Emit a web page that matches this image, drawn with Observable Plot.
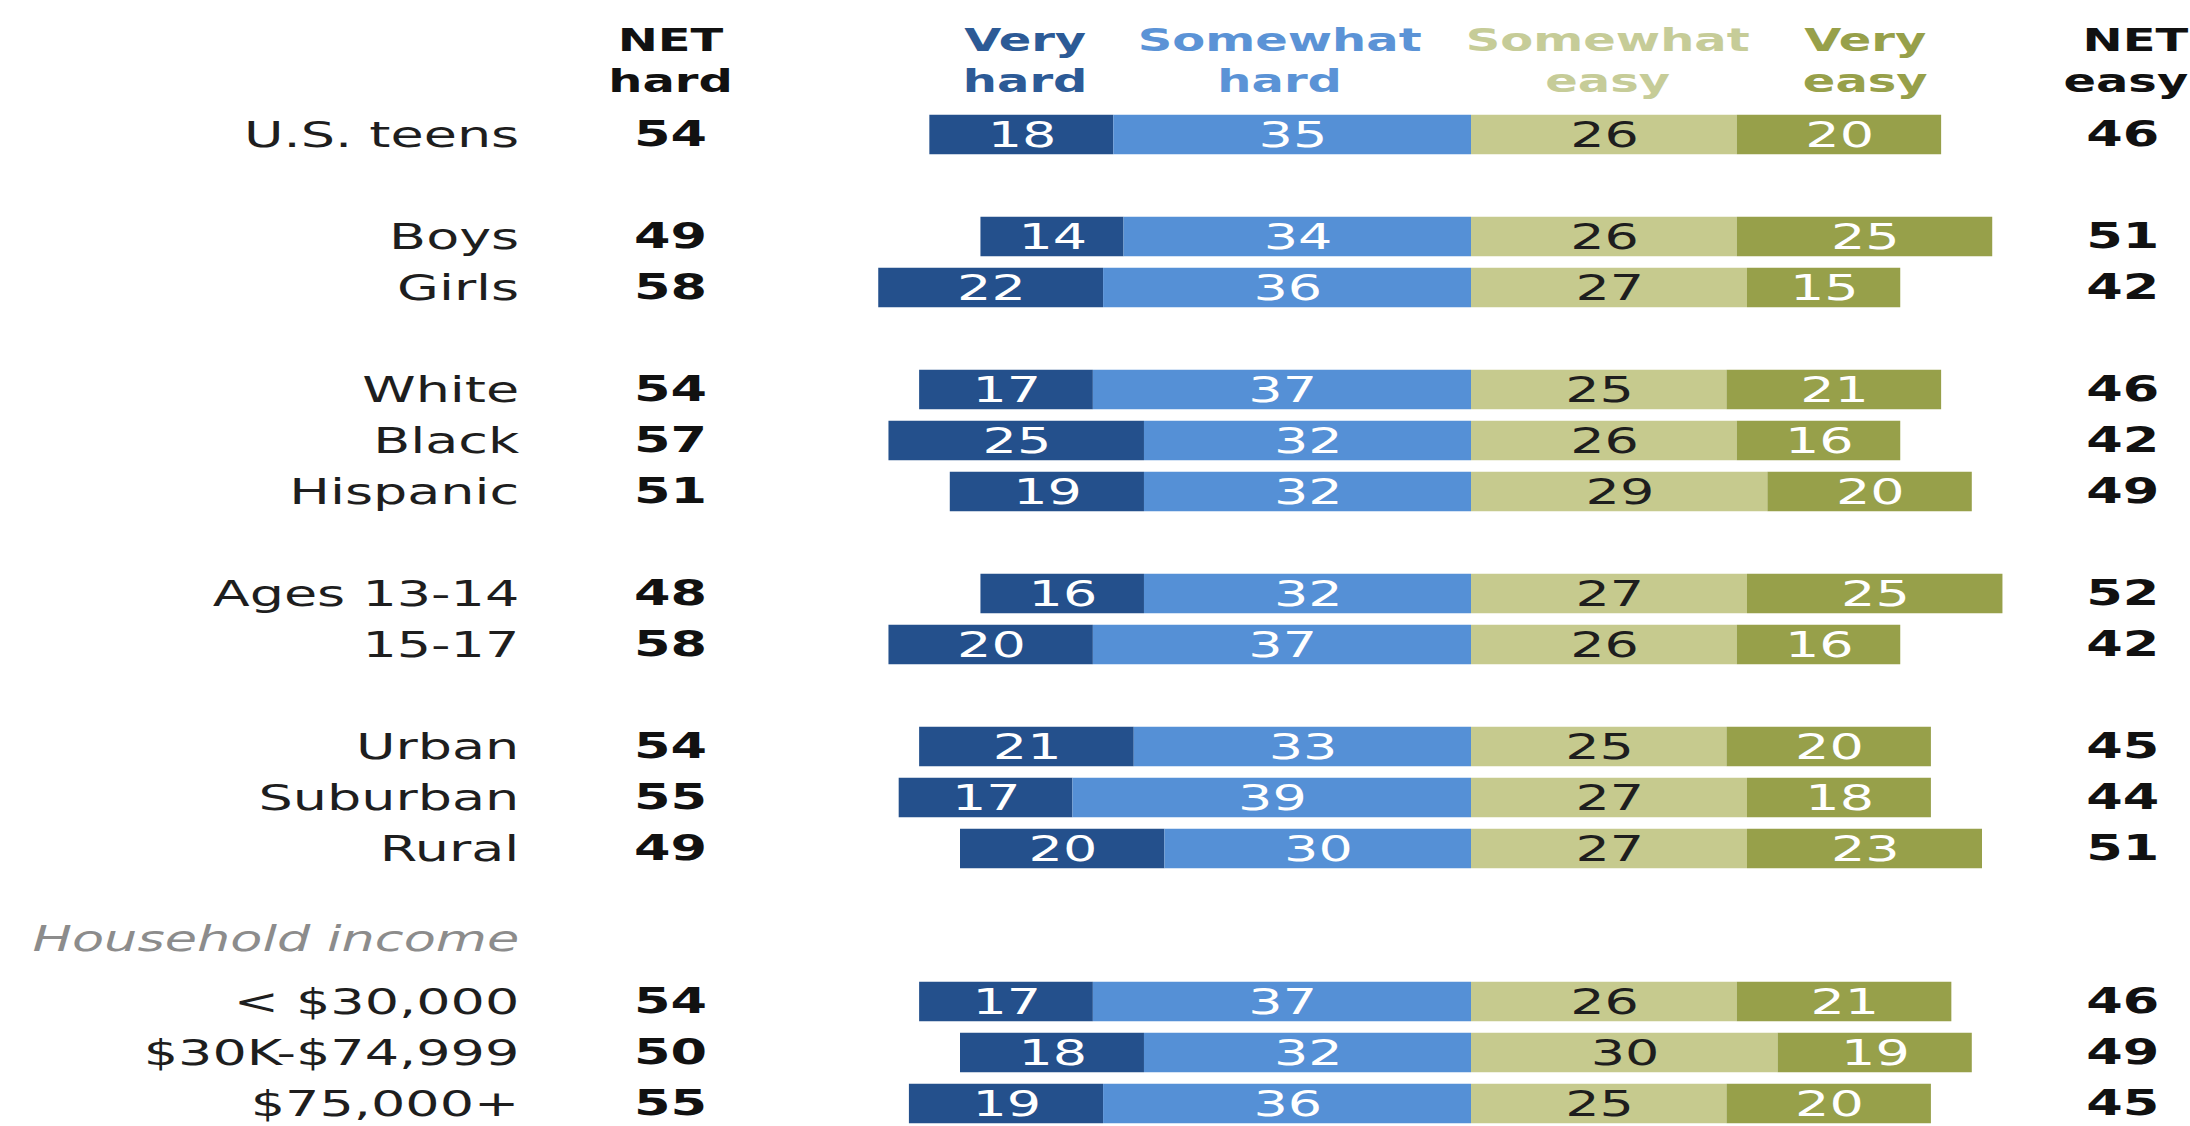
<!DOCTYPE html>
<html>
<head>
<meta charset="utf-8">
<script src="https://cdn.jsdelivr.net/npm/d3@7"></script>
<script src="https://cdn.jsdelivr.net/npm/@observablehq/plot@0.6"></script>
<style>
  html, body { margin: 0; padding: 0; background: #fff; }
  #chart svg { display: block; }
</style>
</head>
<body>
<div id="chart"></div>
<script>
// ---- Data ----
const categories = ["U.S. teens", "Boys", "Girls", "White", "Black", "Hispanic",
  "Ages 13-14", "15-17", "Urban", "Suburban", "Rural",
  "< $30,000", "$30K-$74,999", "$75,000+"];
const groupKeys = ["total", "sex", "sex", "race", "race", "race", "age", "age",
  "place", "place", "place", "income", "income", "income"];
const incomeHeading = "Household income";

const veryHard     = [18, 14, 22, 17, 25, 19, 16, 20, 21, 17, 20, 17, 18, 19];
const somewhatHard = [35, 34, 36, 37, 32, 32, 32, 37, 33, 39, 30, 37, 32, 36];
const somewhatEasy = [26, 26, 27, 25, 26, 29, 27, 26, 25, 27, 27, 26, 30, 25];
const veryEasy     = [20, 25, 15, 21, 16, 20, 25, 16, 20, 18, 23, 21, 19, 20];
const netHard      = [54, 49, 58, 54, 57, 51, 48, 58, 54, 55, 49, 54, 50, 55];
const netEasy      = [46, 51, 42, 46, 42, 49, 52, 42, 45, 44, 51, 46, 49, 45];

const segmentNames = ["Very hard", "Somewhat hard", "Somewhat easy", "Very easy"];

// ---- Styles ----
const segmentColors = ["#24508c", "#5590d6", "#c6ca8e", "#97a04a"];
const segmentText   = ["#ffffff", "#ffffff", "#1e1e1e", "#ffffff"];
const headerColors  = ["#2c5a96", "#5b93d6", "#c6cc98", "#97a04a"];
const FONT = "DejaVu Sans";
const STRETCH = 1.5;           // the reference is horizontally stretched
const OUT_W = 2190, OUT_H = 1126;
const W = OUT_W / STRETCH;

// layout (in x data units)
const LABEL_X = -93.2, NETHARD_X = -78.4, NETEASY_X = 63.7, NETEASY_HDR_X = 70.1;
const HEADER_X = [-43.7, -18.8, 13.3, 38.5];

// ---- Derived tables ----
const yDomain = [];
let prev = null;
categories.forEach((c, i) => {
  if (prev !== null && groupKeys[i] !== prev) {
    yDomain.push("spacer" + i);
    if (groupKeys[i] === "income") yDomain.push(incomeHeading);
  }
  yDomain.push(c);
  prev = groupKeys[i];
});

const segments = [];
categories.forEach((c, i) => {
  const vh = veryHard[i], sh = somewhatHard[i], se = somewhatEasy[i], ve = veryEasy[i];
  segments.push({cat: c, seg: 0, v: vh, x1: -(vh + sh), x2: -sh});
  segments.push({cat: c, seg: 1, v: sh, x1: -sh, x2: 0});
  segments.push({cat: c, seg: 2, v: se, x1: 0, x2: se});
  segments.push({cat: c, seg: 3, v: ve, x1: se, x2: se + ve});
});
const rows = categories.map((c, i) => ({cat: c, nh: netHard[i], ne: netEasy[i]}));

const marks = [];
segmentNames.forEach((name, j) => {
  const data = segments.filter(s => s.seg === j);
  marks.push(Plot.barX(data, {x1: "x1", x2: "x2", y: "cat", fill: segmentColors[j],
    insetTop: 5.75, insetBottom: 5.75}));
  marks.push(Plot.text(data, {x: d => (d.x1 + d.x2) / 2, y: "cat", text: d => String(d.v),
    fill: segmentText[j], fontSize: 36}));
  marks.push(Plot.text([name.replace(" ", "\n")], {x: () => HEADER_X[j], frameAnchor: "top",
    dy: 57.5, lineAnchor: "middle", lineHeight: 1.28, text: d => d, fill: headerColors[j],
    fontSize: 32, fontWeight: "bold"}));
});

// row labels
marks.push(Plot.text(rows, {x: () => LABEL_X, y: "cat", text: "cat", textAnchor: "end",
  fontSize: 36, fill: "#1e1e1e"}));
marks.push(Plot.text([incomeHeading], {x: () => LABEL_X, y: d => d, text: d => d,
  textAnchor: "end", fontSize: 35, fontStyle: "italic", fill: "#8c8c8c", dy: -11}));
// NET columns
marks.push(Plot.text(rows, {x: () => NETHARD_X, y: "cat", text: d => String(d.nh),
  fontSize: 35, fontWeight: "bold", fill: "#111"}));
marks.push(Plot.text(rows, {x: () => NETEASY_X, y: "cat", text: d => String(d.ne),
  fontSize: 35, fontWeight: "bold", fill: "#111"}));
marks.push(Plot.text(["NET\nhard"], {x: () => NETHARD_X, frameAnchor: "top", dy: 57.5,
  lineAnchor: "middle", lineHeight: 1.28, text: d => d, fill: "#111", fontSize: 32, fontWeight: "bold"}));
marks.push(Plot.text(["NET\neasy"], {x: () => NETEASY_HDR_X, frameAnchor: "top", dy: 57.5,
  lineAnchor: "middle", lineHeight: 1.28, textAnchor: "end", text: d => d, fill: "#111",
  fontSize: 32, fontWeight: "bold"}));

const x0 = 980.67, k = 10.22 / STRETCH;
const chart = Plot.plot({
  width: W,
  height: OUT_H,
  marginLeft: 0, marginRight: 0, marginTop: 0, marginBottom: 0,
  style: {fontFamily: FONT, background: "#fff"},
  x: {domain: [-x0 / k, (W - x0) / k], axis: null},
  y: {type: "band", domain: yDomain, range: [104.25, 1134.25], padding: 0, axis: null},
  marks
});
chart.setAttribute("preserveAspectRatio", "none");
chart.setAttribute("width", OUT_W);
chart.setAttribute("height", OUT_H);
chart.style.width = OUT_W + "px";
chart.style.height = OUT_H + "px";
chart.style.maxWidth = "none";
document.getElementById("chart").appendChild(chart);
</script>
</body>
</html>
